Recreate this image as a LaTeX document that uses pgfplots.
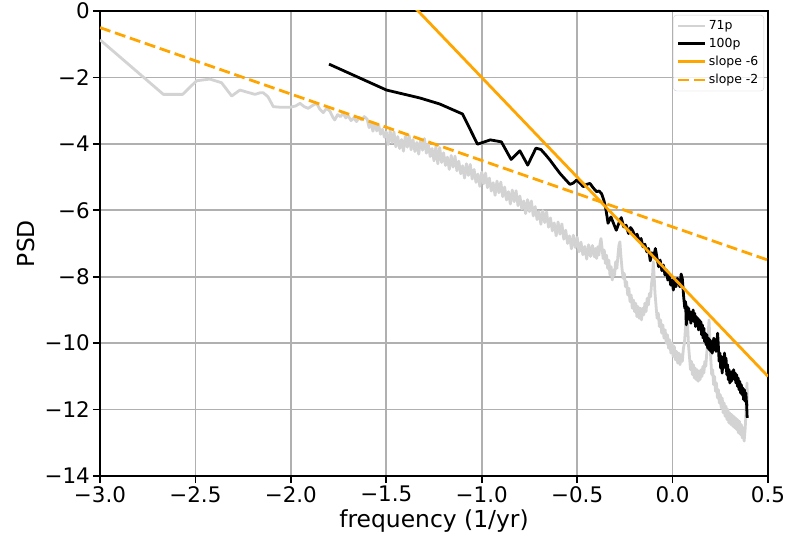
\documentclass[border=0pt]{standalone}
\usepackage{fontspec}
\setmainfont{DejaVu Sans}
\usepackage{pgfplots}
\pgfplotsset{compat=1.18}

\definecolor{psdgray}{HTML}{D3D3D3}
\definecolor{slopeorange}{HTML}{FFA500}
\definecolor{gridgray}{HTML}{B0B0B0}

\begin{document}
\begin{tikzpicture}
\begin{axis}[
  at={(0,0)}, anchor=south west,
  scale only axis,
  width=668bp, height=465bp,
  xmin=-3, xmax=0.5, ymin=-14, ymax=0,
  xtick={-3,-2.5,-2,-1.5,-1,-0.5,0,0.5},
  xticklabels={−3.0,−2.5,−2.0,−1.5,−1.0,−0.5,0.0,0.5},
  ytick={-14,-12,-10,-8,-6,-4,-2,0},
  yticklabels={−14,−12,−10,−8,−6,−4,−2,0},
  tick align=outside, tick pos=left,
  major tick length=7bp,
  every tick/.style={black, line width=1.6bp},
  axis line style={line width=1.6bp},
  grid=major,
  major grid style={gridgray, line width=1.6bp},
  tick label style={font=\fontsize{21.5}{25}\selectfont, inner sep=0pt},
  xticklabel style={anchor=north, yshift=-3bp},
  yticklabel style={anchor=east, xshift=-3bp},
  xlabel={frequency (1/yr)},
  ylabel={PSD},
  label style={font=\fontsize{23.5}{27}\selectfont, inner sep=0pt},
  xlabel style={at={(axis description cs:0.5,-0.1118)}, anchor=base},
  ylabel style={at={(axis description cs:-0.0973,0.5)}, anchor=base},
  legend image code/.code={\draw[#1] (0bp,0bp) -- (27bp,0bp);},
  legend style={
    at={(axis description cs:1,1)}, anchor=north east,
    xshift=-4bp, yshift=-4bp,
    draw=gridgray!60, rounded corners=3bp,
    fill=white, fill opacity=0.8, text opacity=1,
    font=\fontsize{12.5}{15}\selectfont,
    inner sep=3.5bp, row sep=3.2bp,
    cells={anchor=west},
  },
]

% periodogram of the 71p series
\addplot[psdgray, line width=2.8bp, line join=round] table {
x y
-3.000 -0.87
-2.975 -0.99
-2.668 -2.51
-2.567 -2.51
-2.494 -2.10
-2.424 -2.05
-2.363 -2.16
-2.310 -2.56
-2.267 -2.38
-2.225 -2.45
-2.188 -2.51
-2.160 -2.46
-2.145 -2.46
-2.120 -2.58
-2.092 -2.88
-2.050 -2.90
-2.005 -2.90
-1.975 -2.86
-1.952 -2.78
-1.930 -2.88
-1.909 -2.93
-1.885 -2.84
-1.865 -2.78
-1.848 -2.96
-1.830 -3.06
-1.813 -2.93
-1.795 -3.02
-1.780 -3.20
-1.770 -3.28
-1.755 -3.12
-1.740 -3.18
-1.726 -3.08
-1.712 -3.22
-1.700 -3.15
-1.685 -3.30
-1.670 -3.22
-1.656 -3.33
-1.642 -3.20
-1.630 -3.28
-1.615 -3.18
-1.600 -3.26
-1.590 -3.51
-1.580 -3.37
-1.570 -3.62
-1.560 -3.38
-1.550 -3.61
-1.540 -3.43
-1.530 -3.71
-1.520 -3.56
-1.510 -3.80
-1.500 -3.64
-1.490 -4.02
-1.480 -3.60
-1.470 -3.96
-1.460 -3.64
-1.450 -4.09
-1.440 -3.78
-1.430 -4.14
-1.420 -3.87
-1.410 -4.22
-1.400 -3.77
-1.390 -4.10
-1.380 -3.76
-1.370 -4.18
-1.360 -3.87
-1.350 -4.23
-1.340 -3.96
-1.330 -4.31
-1.320 -3.86
-1.310 -4.19
-1.300 -3.84
-1.290 -4.28
-1.280 -4.00
-1.270 -4.38
-1.260 -4.14
-1.250 -4.51
-1.240 -4.08
-1.230 -4.60
-1.220 -4.11
-1.210 -4.56
-1.200 -4.27
-1.190 -4.65
-1.180 -4.40
-1.170 -4.77
-1.160 -4.35
-1.150 -4.70
-1.140 -4.37
-1.130 -4.81
-1.120 -4.52
-1.110 -4.90
-1.100 -4.66
-1.090 -5.03
-1.080 -4.60
-1.070 -4.95
-1.060 -4.62
-1.050 -5.06
-1.040 -4.77
-1.030 -5.16
-1.020 -4.91
-1.010 -5.28
-1.000 -4.85
-0.990 -5.20
-0.980 -4.88
-0.970 -5.32
-0.960 -5.03
-0.950 -5.42
-0.940 -5.17
-0.930 -5.55
-0.920 -5.12
-0.910 -5.47
-0.900 -5.15
-0.890 -5.59
-0.880 -5.30
-0.870 -5.69
-0.860 -5.44
-0.850 -5.81
-0.840 -5.39
-0.830 -5.74
-0.820 -5.41
-0.810 -5.86
-0.800 -5.57
-0.790 -5.96
-0.780 -5.72
-0.770 -6.10
-0.760 -5.68
-0.750 -6.04
-0.740 -5.72
-0.730 -6.17
-0.720 -5.89
-0.710 -6.28
-0.700 -6.04
-0.690 -6.42
-0.680 -6.01
-0.670 -6.37
-0.660 -6.05
-0.650 -6.51
-0.640 -6.23
-0.630 -6.62
-0.620 -6.38
-0.610 -6.77
-0.600 -6.35
-0.590 -6.72
-0.580 -6.41
-0.570 -6.87
-0.560 -6.60
-0.550 -7.00
-0.540 -6.77
-0.530 -7.16
-0.520 -6.75
-0.510 -7.12
-0.500 -6.81
-0.490 -7.25
-0.480 -6.96
-0.470 -7.34
-0.460 -7.09
-0.450 -7.47
-0.440 -7.04
-0.430 -7.39
-0.420 -7.06
-0.410 -7.40
-0.404 -7.15
-0.398 -7.45
-0.392 -7.10
-0.386 -7.35
-0.380 -7.00
-0.375 -6.85
-0.370 -7.10
-0.364 -7.45
-0.358 -7.20
-0.352 -7.60
-0.346 -7.35
-0.340 -7.75
-0.334 -7.50
-0.328 -7.95
-0.322 -7.70
-0.316 -8.10
-0.310 -7.80
-0.304 -7.95
-0.298 -7.55
-0.292 -7.75
-0.286 -7.35
-0.281 -7.05
-0.276 -6.95
-0.271 -7.35
-0.265 -7.75
-0.259 -8.05
-0.253 -7.90
-0.247 -8.30
-0.241 -8.15
-0.235 -8.55
-0.229 -8.35
-0.223 -8.75
-0.217 -8.55
-0.211 -8.95
-0.205 -8.70
-0.199 -9.05
-0.193 -8.80
-0.187 -9.20
-0.181 -8.90
-0.175 -9.25
-0.169 -8.95
-0.163 -9.30
-0.157 -8.95
-0.151 -9.15
-0.145 -8.80
-0.139 -9.05
-0.133 -8.65
-0.127 -8.85
-0.121 -8.50
-0.115 -8.60
-0.110 -8.20
-0.105 -7.95
-0.101 -7.55
-0.097 -7.95
-0.092 -8.50
-0.087 -8.85
-0.081 -9.25
-0.075 -9.10
-0.069 -9.50
-0.063 -9.30
-0.057 -9.70
-0.051 -9.45
-0.045 -9.85
-0.039 -9.60
-0.033 -10.00
-0.027 -9.75
-0.021 -10.15
-0.015 -9.90
-0.009 -10.30
-0.003 -10.00
0.003 -10.40
0.009 -10.10
0.015 -10.50
0.021 -10.25
0.027 -10.60
0.033 -10.30
0.039 -10.65
0.045 -10.35
0.051 -10.55
0.057 -10.15
0.062 -10.00
0.067 -9.60
0.071 -9.20
0.075 -8.85
0.079 -9.50
0.084 -10.10
0.089 -10.45
0.094 -10.80
0.099 -10.55
0.104 -10.95
0.109 -10.65
0.114 -11.05
0.119 -10.75
0.124 -11.10
0.129 -10.80
0.134 -11.15
0.139 -10.85
0.144 -11.10
0.149 -10.80
0.154 -11.00
0.159 -10.70
0.164 -10.90
0.169 -10.55
0.174 -10.70
0.179 -10.30
0.184 -10.00
0.188 -9.60
0.191 -9.30
0.195 -9.85
0.200 -10.45
0.205 -10.95
0.210 -10.80
0.215 -11.25
0.220 -11.00
0.225 -11.45
0.230 -11.20
0.235 -11.65
0.240 -11.40
0.245 -11.80
0.250 -11.55
0.255 -11.95
0.260 -11.65
0.265 -12.10
0.270 -11.80
0.275 -12.20
0.280 -11.90
0.285 -12.30
0.290 -12.00
0.295 -12.40
0.300 -12.10
0.305 -12.45
0.310 -12.15
0.315 -12.50
0.320 -12.20
0.325 -12.55
0.330 -12.25
0.335 -12.60
0.340 -12.30
0.345 -12.70
0.350 -12.35
0.355 -12.75
0.360 -12.45
0.365 -12.85
0.370 -12.55
0.375 -12.95
0.380 -12.60
0.384 -12.20
0.387 -11.60
0.390 -11.20
0.392 -11.90
};
\addlegendentry{71p}

% periodogram of the 100p series
\addplot[black, line width=2.8bp, line join=round] table {
x y
-1.800 -1.60
-1.499 -2.38
-1.323 -2.62
-1.220 -2.80
-1.101 -3.10
-1.022 -4.01
-0.955 -3.88
-0.897 -3.94
-0.846 -4.47
-0.800 -4.21
-0.759 -4.64
-0.716 -4.13
-0.690 -4.17
-0.665 -4.33
-0.642 -4.49
-0.615 -4.70
-0.590 -4.89
-0.565 -5.05
-0.538 -5.22
-0.520 -5.18
-0.503 -5.09
-0.485 -5.18
-0.468 -5.29
-0.450 -5.22
-0.433 -5.19
-0.415 -5.33
-0.398 -5.44
-0.385 -5.42
-0.372 -5.50
-0.360 -5.70
-0.350 -5.95
-0.338 -6.39
-0.323 -6.20
-0.309 -6.40
-0.295 -6.60
-0.282 -6.40
-0.269 -6.22
-0.256 -6.50
-0.243 -6.45
-0.231 -6.70
-0.220 -6.52
-0.208 -6.62
-0.197 -6.80
-0.186 -6.72
-0.175 -6.92
-0.165 -6.85
-0.155 -7.10
-0.145 -7.02
-0.135 -7.25
-0.126 -7.15
-0.117 -7.52
-0.108 -7.28
-0.099 -7.40
-0.090 -7.15
-0.081 -7.45
-0.073 -7.70
-0.065 -7.50
-0.056 -7.82
-0.048 -7.65
-0.040 -7.95
-0.032 -7.80
-0.025 -8.10
-0.017 -7.95
-0.010 -8.25
-0.003 -8.10
0.004 -8.40
0.011 -8.10
0.018 -8.30
0.025 -8.05
0.032 -8.15
0.038 -8.30
0.045 -7.92
0.051 -8.05
0.058 -8.60
0.064 -8.95
0.068 -8.75
0.072 -9.45
0.076 -8.90
0.080 -9.10
0.084 -8.95
0.088 -9.30
0.092 -9.05
0.096 -9.40
0.100 -9.10
0.104 -9.25
0.108 -9.00
0.112 -9.35
0.116 -9.10
0.120 -9.50
0.124 -9.20
0.128 -9.45
0.132 -9.25
0.136 -9.60
0.140 -9.30
0.144 -9.50
0.148 -9.35
0.152 -9.75
0.156 -9.45
0.160 -9.85
0.164 -9.55
0.168 -9.95
0.172 -9.70
0.176 -10.05
0.180 -9.75
0.184 -10.15
0.188 -9.85
0.192 -10.20
0.196 -9.90
0.200 -10.25
0.204 -9.95
0.208 -10.30
0.212 -10.05
0.216 -9.85
0.220 -10.20
0.224 -9.90
0.228 -10.25
0.232 -9.95
0.236 -9.70
0.240 -10.10
0.244 -10.55
0.248 -10.30
0.252 -10.75
0.256 -10.40
0.260 -10.90
0.264 -10.50
0.268 -10.75
0.272 -10.30
0.276 -10.65
0.280 -10.45
0.284 -10.95
0.288 -10.65
0.292 -11.10
0.296 -10.80
0.300 -11.20
0.304 -10.90
0.308 -11.15
0.312 -10.85
0.316 -11.05
0.320 -10.80
0.324 -11.10
0.328 -10.90
0.332 -11.20
0.336 -10.95
0.340 -11.30
0.344 -11.05
0.348 -11.40
0.352 -11.15
0.356 -11.50
0.360 -11.25
0.364 -11.55
0.368 -11.35
0.372 -11.70
0.376 -11.40
0.380 -11.75
0.384 -11.50
0.388 -11.85
0.391 -12.25
};
\addlegendentry{100p}

% reference power laws
\addplot[slopeorange, line width=2.8bp] coordinates {(-3,10) (0.5,-11)};
\addlegendentry{slope -6}
\addplot[slopeorange, line width=2.8bp, dash pattern=on 11bp off 4.8bp] coordinates {(-3,-0.5) (0.5,-7.5)};
\addlegendentry{slope -2}
\end{axis}
\pgfresetboundingbox
\path[use as bounding box] (-100bp,-64bp) rectangle (687bp,476bp);
\end{tikzpicture}
\end{document}
